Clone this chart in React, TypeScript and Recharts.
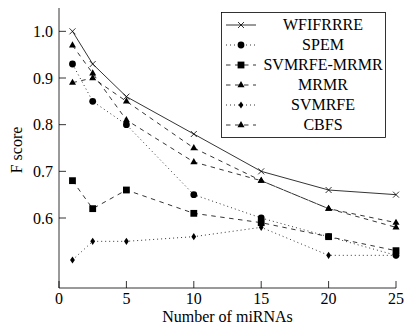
import { LineChart, Line, XAxis, YAxis, Legend } from "recharts";

const N_MIRNAS = [1, 2.5, 5, 10, 15, 20, 25];
const WFIFRRRE = [1.0, 0.93, 0.86, 0.78, 0.7, 0.66, 0.65];
const SPEM = [0.93, 0.85, 0.8, 0.65, 0.6, 0.56, 0.52];
const SVMRFE_MRMR = [0.68, 0.62, 0.66, 0.61, 0.59, 0.56, 0.53];
const MRMR = [0.97, 0.91, 0.81, 0.72, 0.68, 0.62, 0.58];
const SVMRFE = [0.51, 0.55, 0.55, 0.56, 0.58, 0.52, 0.52];
const CBFS = [0.89, 0.9, 0.85, 0.75, 0.68, 0.62, 0.59];

const X_TICKS = [0, 5, 10, 15, 20, 25];
const Y_TICKS = [0.6, 0.7, 0.8, 0.9, 1.0];

const data = N_MIRNAS.map((n, i) => ({
  n,
  wfifrrre: WFIFRRRE[i],
  spem: SPEM[i],
  svmrfeMrmr: SVMRFE_MRMR[i],
  mrmr: MRMR[i],
  svmrfe: SVMRFE[i],
  cbfs: CBFS[i],
}));

const FONT = "Liberation Serif, DejaVu Serif, serif";
const DASHED = "4.5 4.5";
const DOTTED = "1 3";

type MarkKind = "cross" | "circle" | "square" | "triangle" | "diamond";

function Marker({ kind, x, y }: { kind: MarkKind; x: number; y: number }) {
  switch (kind) {
    case "cross":
      return (
        <g stroke="#000" strokeWidth={0.8}>
          <line x1={x - 3} y1={y - 3} x2={x + 3} y2={y + 3} />
          <line x1={x - 3} y1={y + 3} x2={x + 3} y2={y - 3} />
        </g>
      );
    case "circle":
      return <circle cx={x} cy={y} r={3.4} fill="#000" />;
    case "square":
      return <rect x={x - 3.4} y={y - 3.4} width={6.8} height={6.8} fill="#000" />;
    case "triangle":
      return (
        <polygon
          points={`${x},${y - 4} ${x + 3.5},${y + 2.2} ${x - 3.5},${y + 2.2}`}
          fill="#000"
        />
      );
    default:
      return (
        <polygon
          points={`${x},${y - 3.6} ${x + 2.4},${y} ${x},${y + 3.6} ${x - 2.4},${y}`}
          fill="#000"
        />
      );
  }
}

const SERIES: { key: string; name: string; dash?: string; mark: MarkKind }[] = [
  { key: "wfifrrre", name: "WFIFRRRE", mark: "cross" },
  { key: "spem", name: "SPEM", dash: DOTTED, mark: "circle" },
  { key: "svmrfeMrmr", name: "SVMRFE-MRMR", dash: DASHED, mark: "square" },
  { key: "mrmr", name: "MRMR", dash: DASHED, mark: "triangle" },
  { key: "svmrfe", name: "SVMRFE", dash: DOTTED, mark: "diamond" },
  { key: "cbfs", name: "CBFS", dash: DASHED, mark: "triangle" },
];

function dotFor(kind: MarkKind) {
  return (props: any) => (
    <g key={`${kind}-${props.index}`}>
      <Marker kind={kind} x={props.cx} y={props.cy} />
    </g>
  );
}

function LegendBox() {
  const w = 165;
  const h = 126;
  return (
    <svg width={w} height={h} style={{ display: "block" }}>
      <rect x={0.5} y={0.5} width={w - 1} height={h - 1} fill="#fff" stroke="#000" strokeWidth={0.8} />
      {SERIES.map((s, i) => {
        const y = 13 + i * 20;
        return (
          <g key={s.key}>
            <line x1={5} x2={35} y1={y} y2={y} stroke="#000" strokeWidth={0.8} strokeDasharray={s.dash} />
            <Marker kind={s.mark} x={20} y={y} />
            <text
              x={102}
              y={y + 5}
              textAnchor="middle"
              style={{ fontFamily: FONT, fontSize: 16 }}
              fill="#000"
            >
              {s.name}
            </text>
          </g>
        );
      })}
    </svg>
  );
}

export default function App() {
  const tickStyle = { fontFamily: FONT, fontSize: 16, fill: "#000" };
  return (
    <div style={{ position: "absolute", left: 0, top: 0, background: "#fff", fontFamily: FONT }}>
      <LineChart
        width={410}
        height={334}
        data={data}
        margin={{ top: 8, right: 14, bottom: 0, left: 0 }}
        style={{ fontFamily: FONT }}
      >
        <XAxis
          dataKey="n"
          type="number"
          domain={[0, 25]}
          ticks={X_TICKS}
          height={46}
          tickSize={-7}
          tickMargin={12}
          tick={tickStyle}
          stroke="#000"
          axisLine={{ stroke: "#000", strokeWidth: 0.8 }}
          tickLine={{ stroke: "#000", strokeWidth: 0.8 }}
          label={{
            content: (p: any) => (
              <text
                x={p.viewBox.x + p.viewBox.width / 2}
                y={322}
                textAnchor="middle"
                style={{ fontFamily: FONT, fontSize: 16 }}
                fill="#000"
              >
                Number of miRNAs
              </text>
            ),
          }}
        />
        <XAxis
          xAxisId="top"
          orientation="top"
          dataKey="n"
          type="number"
          domain={[0, 25]}
          ticks={X_TICKS}
          height={0}
          tickSize={-7}
          tickFormatter={() => ""}
          axisLine={{ stroke: "#000", strokeWidth: 0.8 }}
          tickLine={{ stroke: "#000", strokeWidth: 0.8 }}
        />
        <YAxis
          type="number"
          domain={[0.45, 1.05]}
          ticks={Y_TICKS}
          width={59}
          tickSize={-7}
          tickMargin={13}
          tick={tickStyle}
          tickFormatter={(v: number) => v.toFixed(1)}
          axisLine={{ stroke: "#000", strokeWidth: 0.8 }}
          tickLine={{ stroke: "#000", strokeWidth: 0.8 }}
          label={{
            content: (p: any) => (
              <text
                transform={`translate(22, ${p.viewBox.y + p.viewBox.height / 2 + 2}) rotate(-90)`}
                textAnchor="middle"
                style={{ fontFamily: FONT, fontSize: 16 }}
                fill="#000"
              >
                F score
              </text>
            ),
          }}
        />
        <YAxis
          yAxisId="right"
          orientation="right"
          type="number"
          domain={[0.45, 1.05]}
          ticks={Y_TICKS}
          width={0}
          tickSize={-7}
          tickFormatter={() => ""}
          axisLine={{ stroke: "#000", strokeWidth: 0.8 }}
          tickLine={{ stroke: "#000", strokeWidth: 0.8 }}
        />
        {SERIES.map((s) => (
          <Line
            key={s.key}
            dataKey={s.key}
            name={s.name}
            type="linear"
            stroke="#000"
            strokeWidth={0.8}
            strokeDasharray={s.dash}
            dot={dotFor(s.mark)}
            activeDot={false}
            isAnimationActive={false}
          />
        ))}
        <Legend
          layout="vertical"
          align="center"
          verticalAlign="middle"
          content={() => <LegendBox />}
          wrapperStyle={{ left: 221, top: 12, width: 165, height: 126 }}
        />
      </LineChart>
    </div>
  );
}
